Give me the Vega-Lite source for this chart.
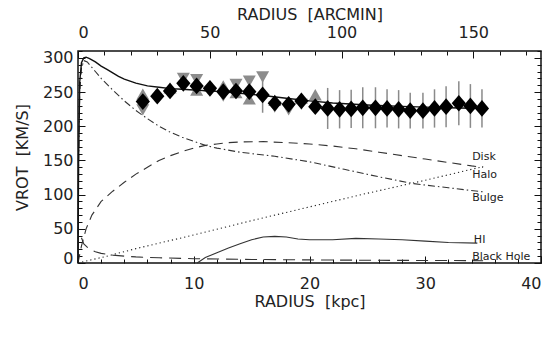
{
  "$schema": "https://vega.github.io/schema/vega-lite/v6.json",
  "width": 463,
  "height": 212,
  "autosize": "none",
  "padding": {"left": 78, "top": 51, "right": 19, "bottom": 97},
  "background": "white",
  "config": {
    "view": {"stroke": "#111", "strokeWidth": 1.5},
    "axis": {
      "grid": false,
      "domain": false,
      "tickColor": "#111",
      "tickWidth": 1,
      "labelOverlap": false,
      "labelFont": "DejaVu Sans",
      "labelFontSize": 16,
      "labelColor": "#222",
      "titleFont": "DejaVu Sans",
      "titleFontSize": 16,
      "titleFontWeight": "normal",
      "titleColor": "#222"
    }
  },
  "datasets": {
    "curves": [
      {"comp": "Total", "r": 0, "v": 0}, {"comp": "Total", "r": 0.05, "v": 150}, {"comp": "Total", "r": 0.15, "v": 265}, {"comp": "Total", "r": 0.3, "v": 293}, {"comp": "Total", "r": 0.5, "v": 300}, {"comp": "Total", "r": 0.7, "v": 301}, {"comp": "Total", "r": 1.0, "v": 299}, {"comp": "Total", "r": 1.5, "v": 294}, {"comp": "Total", "r": 2, "v": 288}, {"comp": "Total", "r": 2.5, "v": 283}, {"comp": "Total", "r": 3, "v": 278}, {"comp": "Total", "r": 3.5, "v": 273}, {"comp": "Total", "r": 4, "v": 269}, {"comp": "Total", "r": 5, "v": 263}, {"comp": "Total", "r": 6, "v": 259}, {"comp": "Total", "r": 7, "v": 257}, {"comp": "Total", "r": 8, "v": 255}, {"comp": "Total", "r": 9, "v": 254}, {"comp": "Total", "r": 10, "v": 253}, {"comp": "Total", "r": 12, "v": 251}, {"comp": "Total", "r": 14, "v": 248}, {"comp": "Total", "r": 16, "v": 245}, {"comp": "Total", "r": 18, "v": 241}, {"comp": "Total", "r": 20, "v": 237}, {"comp": "Total", "r": 22, "v": 234}, {"comp": "Total", "r": 25, "v": 231}, {"comp": "Total", "r": 28, "v": 229}, {"comp": "Total", "r": 30, "v": 228}, {"comp": "Total", "r": 32, "v": 227}, {"comp": "Total", "r": 35, "v": 226},
      {"comp": "Bulge", "r": 0, "v": 0}, {"comp": "Bulge", "r": 0.05, "v": 140}, {"comp": "Bulge", "r": 0.15, "v": 250}, {"comp": "Bulge", "r": 0.3, "v": 285}, {"comp": "Bulge", "r": 0.5, "v": 296}, {"comp": "Bulge", "r": 0.8, "v": 294}, {"comp": "Bulge", "r": 1.2, "v": 286}, {"comp": "Bulge", "r": 1.5, "v": 280}, {"comp": "Bulge", "r": 2, "v": 270}, {"comp": "Bulge", "r": 3, "v": 253}, {"comp": "Bulge", "r": 4, "v": 237}, {"comp": "Bulge", "r": 5, "v": 223}, {"comp": "Bulge", "r": 6, "v": 211}, {"comp": "Bulge", "r": 7, "v": 200}, {"comp": "Bulge", "r": 8, "v": 191}, {"comp": "Bulge", "r": 9, "v": 184}, {"comp": "Bulge", "r": 10, "v": 178}, {"comp": "Bulge", "r": 11, "v": 172}, {"comp": "Bulge", "r": 12, "v": 168}, {"comp": "Bulge", "r": 14, "v": 162}, {"comp": "Bulge", "r": 17, "v": 156}, {"comp": "Bulge", "r": 20, "v": 148}, {"comp": "Bulge", "r": 23, "v": 137}, {"comp": "Bulge", "r": 26, "v": 126}, {"comp": "Bulge", "r": 29, "v": 116}, {"comp": "Bulge", "r": 32, "v": 110}, {"comp": "Bulge", "r": 35, "v": 104},
      {"comp": "Disk", "r": 0, "v": 0}, {"comp": "Disk", "r": 0.3, "v": 25}, {"comp": "Disk", "r": 0.7, "v": 50}, {"comp": "Disk", "r": 1.2, "v": 70}, {"comp": "Disk", "r": 2, "v": 90}, {"comp": "Disk", "r": 3, "v": 105}, {"comp": "Disk", "r": 4, "v": 118}, {"comp": "Disk", "r": 5, "v": 130}, {"comp": "Disk", "r": 6, "v": 140}, {"comp": "Disk", "r": 7, "v": 150}, {"comp": "Disk", "r": 8, "v": 157}, {"comp": "Disk", "r": 9, "v": 163}, {"comp": "Disk", "r": 10, "v": 168}, {"comp": "Disk", "r": 11, "v": 172}, {"comp": "Disk", "r": 12, "v": 174}, {"comp": "Disk", "r": 13, "v": 176}, {"comp": "Disk", "r": 14, "v": 177}, {"comp": "Disk", "r": 16, "v": 177.5}, {"comp": "Disk", "r": 18, "v": 176}, {"comp": "Disk", "r": 20, "v": 174}, {"comp": "Disk", "r": 22, "v": 171}, {"comp": "Disk", "r": 24, "v": 167}, {"comp": "Disk", "r": 26, "v": 162}, {"comp": "Disk", "r": 28, "v": 157}, {"comp": "Disk", "r": 30, "v": 152}, {"comp": "Disk", "r": 32, "v": 147}, {"comp": "Disk", "r": 34, "v": 142}, {"comp": "Disk", "r": 35, "v": 140},
      {"comp": "Halo", "r": 0, "v": 0}, {"comp": "Halo", "r": 2.5, "v": 10}, {"comp": "Halo", "r": 5, "v": 21}, {"comp": "Halo", "r": 10, "v": 41}, {"comp": "Halo", "r": 15, "v": 62}, {"comp": "Halo", "r": 20, "v": 82}, {"comp": "Halo", "r": 25, "v": 102}, {"comp": "Halo", "r": 30, "v": 121}, {"comp": "Halo", "r": 35, "v": 141},
      {"comp": "HI", "r": 10.3, "v": 0}, {"comp": "HI", "r": 11, "v": 8}, {"comp": "HI", "r": 12, "v": 15}, {"comp": "HI", "r": 13, "v": 22}, {"comp": "HI", "r": 14, "v": 28}, {"comp": "HI", "r": 15, "v": 34}, {"comp": "HI", "r": 16, "v": 38}, {"comp": "HI", "r": 17, "v": 39}, {"comp": "HI", "r": 18, "v": 38}, {"comp": "HI", "r": 19, "v": 35}, {"comp": "HI", "r": 20, "v": 34}, {"comp": "HI", "r": 22, "v": 34}, {"comp": "HI", "r": 24, "v": 36}, {"comp": "HI", "r": 26, "v": 35}, {"comp": "HI", "r": 28, "v": 34}, {"comp": "HI", "r": 30, "v": 32}, {"comp": "HI", "r": 32, "v": 30}, {"comp": "HI", "r": 34.5, "v": 29},
      {"comp": "BH", "r": 0.3, "v": 37}, {"comp": "BH", "r": 0.5, "v": 28}, {"comp": "BH", "r": 1, "v": 20}, {"comp": "BH", "r": 1.5, "v": 16.3}, {"comp": "BH", "r": 2, "v": 14.1}, {"comp": "BH", "r": 3, "v": 11.5}, {"comp": "BH", "r": 4, "v": 10}, {"comp": "BH", "r": 5, "v": 8.9}, {"comp": "BH", "r": 7, "v": 7.6}, {"comp": "BH", "r": 10, "v": 6.3}, {"comp": "BH", "r": 15, "v": 5.2}, {"comp": "BH", "r": 20, "v": 4.5}, {"comp": "BH", "r": 25, "v": 4}, {"comp": "BH", "r": 30, "v": 3.7}, {"comp": "BH", "r": 35, "v": 3.4}
    ],
    "diamonds": [
      {"r": 5.6, "v": 236, "err": 17}, {"r": 6.85, "v": 244, "err": 8}, {"r": 7.95, "v": 251.5, "err": 8}, {"r": 9.1, "v": 262.8, "err": 8}, {"r": 10.25, "v": 259, "err": 8}, {"r": 11.4, "v": 255.5, "err": 10}, {"r": 12.55, "v": 250.5, "err": 12}, {"r": 13.65, "v": 251.5, "err": 8}, {"r": 14.8, "v": 250.5, "err": 10}, {"r": 15.95, "v": 245.7, "err": 26}, {"r": 17.0, "v": 233.6, "err": 8}, {"r": 18.2, "v": 232, "err": 10}, {"r": 19.3, "v": 237, "err": 8}, {"r": 20.5, "v": 228.6, "err": 10},
      {"r": 21.57, "v": 226, "err": 30}, {"r": 22.6, "v": 224.8, "err": 28}, {"r": 23.6, "v": 225.3, "err": 28}, {"r": 24.6, "v": 227, "err": 30}, {"r": 25.7, "v": 227, "err": 30}, {"r": 26.7, "v": 226, "err": 28}, {"r": 27.7, "v": 224.8, "err": 28}, {"r": 28.7, "v": 222.8, "err": 26}, {"r": 29.8, "v": 222.8, "err": 26}, {"r": 30.8, "v": 226, "err": 28}, {"r": 31.8, "v": 228.6, "err": 30}, {"r": 32.9, "v": 233.6, "err": 32}, {"r": 33.9, "v": 229.6, "err": 32}, {"r": 34.9, "v": 226, "err": 28}
    ],
    "gray": [
      {"r": 5.6, "v": 224, "sym": "down"}, {"r": 9.1, "v": 270, "sym": "down"}, {"r": 10.25, "v": 268, "sym": "down"}, {"r": 12.55, "v": 244, "sym": "down"}, {"r": 13.65, "v": 261, "sym": "down"}, {"r": 14.8, "v": 266, "sym": "down"}, {"r": 15.95, "v": 272, "sym": "down"}, {"r": 17.0, "v": 228, "sym": "down"}, {"r": 18.2, "v": 224, "sym": "down"}, {"r": 19.3, "v": 232, "sym": "down"},
      {"r": 5.6, "v": 247, "sym": "up"}, {"r": 7.95, "v": 256, "sym": "up"}, {"r": 10.25, "v": 253, "sym": "up"}, {"r": 11.4, "v": 259, "sym": "up"}, {"r": 12.55, "v": 259, "sym": "up"}, {"r": 13.65, "v": 249, "sym": "up"}, {"r": 14.8, "v": 240, "sym": "up"}, {"r": 17.0, "v": 238, "sym": "up"}, {"r": 19.3, "v": 241, "sym": "up"}, {"r": 20.5, "v": 246, "sym": "up"}
    ],
    "labels": [
      {"r": 34.05, "v": 155, "label": "Disk"}, {"r": 34.05, "v": 128, "label": "Halo"}, {"r": 34.05, "v": 95, "label": "Bulge"}, {"r": 34.2, "v": 34, "label": "HI"}, {"r": 34.05, "v": 9, "label": "Black Hole"}
    ],
    "anchor": [{"r": 0, "v": 0, "arcmin": 0}]
  },
  "layer": [
    {
      "layer": [
        {
          "data": {"name": "curves"},
          "transform": [{"filter": "datum.comp === 'Disk'"}],
          "mark": {"type": "line", "color": "#333", "strokeWidth": 1.1, "strokeDash": [9, 6]},
          "encoding": {
            "x": {"field": "r", "type": "quantitative", "title": "RADIUS\u00a0\u00a0[kpc]", "scale": {"domain": [0, 40], "nice": false, "zero": false},
              "axis": {"orient": "bottom", "values": [0, 10, 20, 30, 40], "tickSize": -7, "labelPadding": 19, "titlePadding": 2}},
            "y": {"field": "v", "type": "quantitative", "title": "VROT\u00a0\u00a0[KM/S]", "scale": {"domain": [0, 310], "nice": false, "zero": false},
              "axis": {"orient": "left", "values": [50, 100, 150, 200, 250, 300], "tickSize": -7, "labelPadding": 12, "titlePadding": 12}}
          }
        },
        {
          "data": {"name": "curves"},
          "transform": [{"filter": "datum.comp === 'Halo'"}],
          "mark": {"type": "line", "color": "#222", "strokeWidth": 1.1, "strokeDash": [1.2, 3]},
          "encoding": {"x": {"field": "r", "type": "quantitative", "title": "RADIUS\u00a0\u00a0[kpc]"}, "y": {"field": "v", "type": "quantitative", "title": "VROT\u00a0\u00a0[KM/S]"}}
        },
        {
          "data": {"name": "curves"},
          "transform": [{"filter": "datum.comp === 'Bulge'"}],
          "mark": {"type": "line", "color": "#333", "strokeWidth": 1.1, "strokeDash": [7, 3, 1.5, 3]},
          "encoding": {"x": {"field": "r", "type": "quantitative", "title": "RADIUS\u00a0\u00a0[kpc]"}, "y": {"field": "v", "type": "quantitative", "title": "VROT\u00a0\u00a0[KM/S]"}}
        },
        {
          "data": {"name": "curves"},
          "transform": [{"filter": "datum.comp === 'HI'"}],
          "mark": {"type": "line", "color": "#333", "strokeWidth": 1.1},
          "encoding": {"x": {"field": "r", "type": "quantitative", "title": "RADIUS\u00a0\u00a0[kpc]"}, "y": {"field": "v", "type": "quantitative", "title": "VROT\u00a0\u00a0[KM/S]"}}
        },
        {
          "data": {"name": "curves"},
          "transform": [{"filter": "datum.comp === 'BH'"}],
          "mark": {"type": "line", "color": "#333", "strokeWidth": 1.1, "strokeDash": [12, 7]},
          "encoding": {"x": {"field": "r", "type": "quantitative", "title": "RADIUS\u00a0\u00a0[kpc]"}, "y": {"field": "v", "type": "quantitative", "title": "VROT\u00a0\u00a0[KM/S]"}}
        },
        {
          "data": {"name": "diamonds"},
          "mark": {"type": "errorbar", "color": "#8a8a8a", "thickness": 1.5},
          "encoding": {"x": {"field": "r", "type": "quantitative", "title": "RADIUS\u00a0\u00a0[kpc]"}, "y": {"field": "v", "type": "quantitative", "title": "VROT\u00a0\u00a0[KM/S]"}, "yError": {"field": "err"}}
        },
        {
          "data": {"name": "gray"},
          "mark": {"type": "point", "filled": true, "color": "#8c8c8c", "opacity": 1, "size": 170},
          "encoding": {
            "x": {"field": "r", "type": "quantitative", "title": "RADIUS\u00a0\u00a0[kpc]"},
            "y": {"field": "v", "type": "quantitative", "title": "VROT\u00a0\u00a0[KM/S]"},
            "shape": {"field": "sym", "type": "nominal", "scale": {"domain": ["down", "up"], "range": ["triangle-down", "triangle-up"]}, "legend": null}
          }
        },
        {
          "data": {"name": "curves"},
          "transform": [{"filter": "datum.comp === 'Total'"}],
          "mark": {"type": "line", "color": "#111", "strokeWidth": 1.4},
          "encoding": {"x": {"field": "r", "type": "quantitative", "title": "RADIUS\u00a0\u00a0[kpc]"}, "y": {"field": "v", "type": "quantitative", "title": "VROT\u00a0\u00a0[KM/S]"}}
        },
        {
          "data": {"name": "diamonds"},
          "mark": {"type": "point", "filled": true, "color": "#000", "opacity": 1, "size": 280, "shape": "M0,-1L0.85,0L0,1L-0.85,0Z"},
          "encoding": {"x": {"field": "r", "type": "quantitative", "title": "RADIUS\u00a0\u00a0[kpc]"}, "y": {"field": "v", "type": "quantitative", "title": "VROT\u00a0\u00a0[KM/S]"}}
        },
        {
          "data": {"name": "labels"},
          "mark": {"type": "text", "align": "left", "baseline": "middle", "font": "DejaVu Sans", "fontSize": 11, "color": "#222"},
          "encoding": {"x": {"field": "r", "type": "quantitative", "title": "RADIUS\u00a0\u00a0[kpc]"}, "y": {"field": "v", "type": "quantitative", "title": "VROT\u00a0\u00a0[KM/S]"}, "text": {"field": "label"}}
        }
      ]
    },
    {
      "data": {"name": "anchor"},
      "mark": {"type": "point", "opacity": 0},
      "encoding": {
        "x": {"field": "r", "type": "quantitative", "scale": {"domain": [0, 40], "nice": false, "zero": false},
          "axis": {"orient": "bottom", "values": [2, 4, 6, 8, 12, 14, 16, 18, 22, 24, 26, 28, 32, 34, 36, 38], "tickSize": -4, "labels": false, "title": null}},
        "y": {"field": "v", "type": "quantitative", "scale": {"domain": [0, 310], "nice": false, "zero": false},
          "axis": {"orient": "left", "values": [10, 20, 30, 40, 60, 70, 80, 90, 110, 120, 130, 140, 160, 170, 180, 190, 210, 220, 230, 240, 260, 270, 280, 290, 310], "tickSize": -4, "labels": false, "title": null}}
      }
    },
    {
      "data": {"name": "anchor"},
      "mark": {"type": "point", "opacity": 0},
      "encoding": {
        "x": {"field": "arcmin", "type": "quantitative", "scale": {"domain": [0, 175.7], "nice": false, "zero": false},
          "axis": {"orient": "top", "values": [0, 50, 100, 150], "tickSize": -7, "labelPadding": 18, "title": "RADIUS\u00a0\u00a0[ARCMIN]", "titlePadding": 2}},
        "y": {"field": "v", "type": "quantitative", "scale": {"domain": [0, 310], "nice": false, "zero": false},
          "axis": {"orient": "right", "values": [0, 50, 100, 150, 200, 250, 300], "tickSize": -7, "labels": false, "title": null}}
      }
    },
    {
      "data": {"name": "anchor"},
      "mark": {"type": "point", "opacity": 0},
      "encoding": {
        "x": {"field": "arcmin", "type": "quantitative", "scale": {"domain": [0, 175.7], "nice": false, "zero": false},
          "axis": {"orient": "top", "values": [10, 20, 30, 40, 60, 70, 80, 90, 110, 120, 130, 140, 160, 170], "tickSize": -4, "labels": false, "title": null}},
        "y": {"field": "v", "type": "quantitative", "scale": {"domain": [0, 310], "nice": false, "zero": false},
          "axis": {"orient": "right", "values": [10, 20, 30, 40, 60, 70, 80, 90, 110, 120, 130, 140, 160, 170, 180, 190, 210, 220, 230, 240, 260, 270, 280, 290, 310], "tickSize": -4, "labels": false, "title": null}}
      }
    },
    {
      "data": {"name": "anchor"},
      "mark": {"type": "point", "opacity": 0},
      "encoding": {
        "y": {"field": "v", "type": "quantitative", "scale": {"domain": [0, 310], "nice": false, "zero": false},
          "axis": {"orient": "left", "values": [0], "tickSize": -7, "labelPadding": 12, "labelOffset": -5, "title": null}}
      }
    }
  ],
  "resolve": {"scale": {"x": "independent", "y": "independent"}, "axis": {"x": "independent", "y": "independent"}}
}
